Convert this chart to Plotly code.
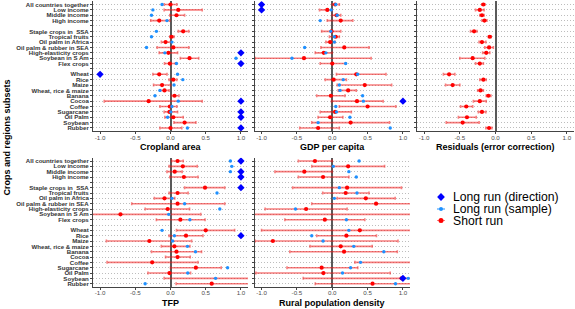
import plotly.graph_objects as go

W, H = 575, 309

categories = ["All countries together", "Low income", "Middle income", "High income", " ",
              "Staple crops in  SSA", "Tropical fruits", "Oil palm in Africa", "Oil palm & rubber in SEA",
              "High-elasticity crops", "Soybean in S Am", "Flex crops", "  ",
              "Wheat", "Rice", "Maize", "Wheat, rice & maize", "Banana", "Cocoa", "Coffee",
              "Sugarcane", "Oil Palm", "Soybean", "Rubber"]

x_tickvals = [-1.0, -0.5, 0.0, 0.5, 1.0]
x_ticktext = ["-1.0", "-0.5", "0.0", "0.5", "1.0"]

# Cropland area
crop_sr = [0.0, 0.11, 0.085, -0.16, None, 0.18, 0.015, -0.07, 0.04, -0.03, 0.27, -0.01, None,
           -0.16, 0.04, -0.12, -0.085, 0.057, -0.31, -0.01, -0.015, 0.04, 0.2, 0.0]
crop_lo = [-0.09, -0.09, -0.01, -0.28, None, 0.11, -0.01, -0.13, -0.19, -0.16, 0.14, -0.085, None,
           -0.25, -0.02, -0.24, -0.15, 0.015, -0.94, -0.15, -0.09, -0.08, 0.05, -0.15]
crop_hi = [0.09, 0.45, 0.2, -0.01, None, 0.26, 0.05, 0.0, 0.26, 0.1, 0.4, 0.07, None,
           -0.05, 0.09, 0.0, -0.02, 0.12, 0.45, 0.09, 0.1, 0.18, 0.36, 0.16]
crop_sample = [-0.12, -0.25, -0.27, -0.05, None, -0.2, -0.27, 0.02, -0.34, -0.08, 0.93, 0.085, None,
               0.1, 0.175, 0.05, -0.15, -0.22, 0.11, 0.02, 0.005, -0.04, None, 0.24]
crop_dir = [None, None, None, None, None, None, None, None, None, 1, None, 1, None,
            -1, None, None, None, None, 1, None, 1, 1, None, 1]

# GDP per capita
gdp_sr = [0.04, -0.07, 0.06, 0.12, None, -0.01, 0.05, -0.03, 0.17, -0.12, -0.4, 0.0, None,
          0.34, 0.02, 0.46, 0.225, -0.02, 0.35, 0.5, 0.04, -0.03, 0.26, -0.2]
gdp_lo = [0.0, -0.18, 0.0, -0.07, None, -0.15, -0.04, -0.09, -0.16, -0.24, -1.09, -0.17, None,
          0.06, -0.1, 0.07, 0.085, -0.22, -0.01, 0.1, -0.17, -0.2, -0.29, -0.46]
gdp_hi = [0.1, 0.0, 0.12, 0.29, None, 0.12, 0.1, 0.04, 0.52, 0.0, 0.55, 0.19, None,
          0.76, 0.2, 0.84, 0.34, 0.18, 0.72, 0.9, 0.27, 0.15, 0.81, 0.1]
gdp_sample = [0.05, -0.015, 0.07, -0.17, None, -0.02, 0.03, 0.03, -0.39, -0.09, -0.57, 0.19, None,
              0.36, 0.155, 0.1, 0.11, 0.43, 0.44, 0.05, 0.06, 0.25, -0.2, 0.82]
gdp_dir = [-1, -1, None, None, None, None, None, None, None, None, None, None, None,
           None, None, None, None, None, 1, None, None, None, None, None]

# Residuals (error correction)
res_sr = [-0.17, -0.22, -0.19, -0.155, None, -0.3, -0.08, -0.19, -0.09, -0.13, -0.32, -0.22, None,
          -0.65, -0.17, -0.6, -0.21, -0.1, -0.22, -0.41, -0.19, -0.4, -0.46, -0.09]
res_lo = [-0.19, -0.28, -0.22, -0.19, None, -0.35, -0.1, -0.23, -0.15, -0.18, -0.5, -0.28, None,
          -0.73, -0.22, -0.7, -0.25, -0.13, -0.31, -0.49, -0.24, -0.52, -0.69, -0.135]
res_hi = [-0.15, -0.16, -0.16, -0.12, None, -0.26, -0.06, -0.135, -0.03, -0.08, -0.15, -0.17, None,
          -0.57, -0.13, -0.5, -0.17, -0.065, -0.13, -0.32, -0.135, -0.27, -0.23, -0.05]
res_sample = [None] * 24
res_dir = [None] * 24

# TFP
tfp_sr = [0.1, 0.175, 0.06, 0.19, None, 0.49, 0.1, -0.085, 0.1, -0.04, -0.71, 0.14, None,
          0.5, 0.22, -0.3, 0.055, 0.085, 0.1, -0.26, 0.36, -0.015, 1.2, 0.585]
tfp_lo = [0.015, -0.02, -0.05, -0.01, None, 0.2, -0.02, -0.23, -0.55, -0.36, -1.3, -0.2, None,
          0.085, -0.02, -0.91, -0.13, -0.27, -0.07, -0.9, 0.0, -0.32, -0.09, 0.08]
tfp_hi = [0.18, 0.38, 0.165, 0.39, None, 0.77, 0.25, 0.06, 0.77, 0.27, 0.43, 0.49, None,
          0.91, 0.46, 0.3, 0.275, 0.44, 0.28, 0.39, 0.72, 0.285, 2.5, 1.3]
tfp_sample = [0.85, 0.87, 0.85, None, None, None, 0.66, 0.02, 0.2, 0.7, -0.025, 0.275, None,
              -0.12, 0.055, 0.03, 0.24, 0.355, None, None, 0.81, 0.245, 0.64, -0.36]
tfp_dir = [1, None, 1, 1, None, 1, None, None, None, None, None, None, None,
           None, 1, None, None, None, None, None, None, None, None, None]

# Rural population density
rur_sr = [-0.245, 0.225, -0.395, -0.13, None, 0.21, 0.19, 0.475, 0.62, -0.37, 1.3, -0.105, None,
          0.39, 0.2, -0.84, 0.12, 0.167, None, 1.3, -0.15, -0.125, 0.98, 0.57]
rur_lo = [-0.48, -0.29, -0.81, -0.48, None, -0.56, -0.135, 0.07, -0.29, -0.95, -1.5, -0.67, None,
          -1.0, -0.22, -1.09, -0.315, -0.6, None, 0.32, -0.64, -1.08, -0.41, -0.24]
rur_hi = [0.0, 0.74, 0.0, 0.235, None, 0.98, 0.52, 0.89, 1.5, 0.21, 4.0, 0.46, None,
          1.8, 0.625, 0.93, 0.565, 0.92, None, 2.3, 0.36, 0.82, 2.4, 1.6]
rur_sample = [0.38, 0.015, 0.235, 0.34, None, 0.1, 0.35, 0.03, None, -0.52, None, 0.2, None,
              0.235, -0.29, -0.13, 0.305, 0.73, None, 0.4, 0.26, 0.145, 1.075, 0.895]
rur_dir = [None, None, None, None, None, None, None, None, None, None, None, None, None,
           None, None, None, None, None, None, None, None, None, 1, None]

panel_titles = ["Cropland area", "GDP per capita", "Residuals (error correction)", "TFP", "Rural population density"]
legend_labels = ["Long run (direction)", "Long run (sample)", "Short run"]

RED = "#FF0000"
RED_CI = "rgba(240,20,20,0.55)"
SAMPLE = "#1E90FF"
DIRC = "#0000FF"
FONT = "Liberation Sans"

# layout geometry (pixels)
cols_px = [(93, 248), (254.5, 410), (417, 574)]
rows_px = [(1.3, 131.2), (157.8, 286.9)]

def xd(c):
    return [cols_px[c][0] / W, cols_px[c][1] / W]

def yd(r):
    return [1 - rows_px[r][1] / H, 1 - rows_px[r][0] / H]

panels = [
    (0, 0, crop_sr, crop_lo, crop_hi, crop_sample, crop_dir),
    (0, 1, gdp_sr, gdp_lo, gdp_hi, gdp_sample, gdp_dir),
    (0, 2, res_sr, res_lo, res_hi, res_sample, res_dir),
    (1, 0, tfp_sr, tfp_lo, tfp_hi, tfp_sample, tfp_dir),
    (1, 1, rur_sr, rur_lo, rur_hi, rur_sample, rur_dir),
]

fig = go.Figure()
layout = {}
annotations = []

for i, (r, c, sr, lo, hi, sample, direc) in enumerate(panels):
    k = i + 1
    xa = "x" if k == 1 else f"x{k}"
    ya = "y" if k == 1 else f"y{k}"
    plus = [None if s is None else h - s for s, h in zip(sr, hi)]
    minus = [None if s is None else s - l for s, l in zip(sr, lo)]
    fig.add_trace(go.Scatter(
        x=sr, y=categories, mode="markers", xaxis=xa, yaxis=ya, showlegend=False,
        marker=dict(color=RED, size=4.2, line=dict(width=0)),
        error_x=dict(type="data", symmetric=False, array=plus, arrayminus=minus,
                     color=RED_CI, thickness=1.6, width=1.5),
        cliponaxis=True, hoverinfo="skip"))
    fig.add_trace(go.Scatter(
        x=sample, y=categories, mode="markers", xaxis=xa, yaxis=ya, showlegend=False,
        marker=dict(color=SAMPLE, size=3.4, line=dict(width=0)), cliponaxis=True, hoverinfo="skip"))
    fig.add_trace(go.Scatter(
        x=direc, y=categories, mode="markers", xaxis=xa, yaxis=ya, showlegend=False,
        marker=dict(color=DIRC, size=5.6, symbol="diamond", line=dict(width=0)),
        cliponaxis=True, hoverinfo="skip"))

    xname = "xaxis" if k == 1 else f"xaxis{k}"
    yname = "yaxis" if k == 1 else f"yaxis{k}"
    layout[xname] = dict(
        domain=xd(c), anchor=ya, range=[-1.1, 1.1], tickmode="array",
        tickvals=x_tickvals, ticktext=x_ticktext, ticklabelstandoff=-2,
        showgrid=False, zeroline=True, zerolinecolor="#5a5a5a", zerolinewidth=1.8,
        showline=True, linecolor="#444", linewidth=1, ticks="outside", ticklen=2,
        tickcolor="#444", tickwidth=1, tickfont=dict(family=FONT, size=6.2, color="#4d4d4d"),
        automargin=False, fixedrange=True)
    layout[yname] = dict(
        domain=yd(r), anchor=xa, type="category", categoryorder="array", categoryarray=categories,
        tickmode="array", tickvals=categories, ticktext=categories,
        range=[23.6, -0.6], showgrid=True, gridcolor="#bdbdbd", gridwidth=1, griddash="1px,2px",
        showline=True, linecolor="#444", linewidth=1, ticks="outside", ticklen=2, tickcolor="#444",
        tickwidth=1, showticklabels=(c == 0),
        tickfont=dict(family=FONT, size=6.1, color="#333", weight="bold"),
        automargin=False, fixedrange=True, zeroline=False)
    cx = (cols_px[c][0] + cols_px[c][1]) / 2 / W
    ty = 146.5 if r == 0 else 303
    annotations.append(dict(text=panel_titles[i], x=cx, y=1 - ty / H, xref="paper", yref="paper",
                            xanchor="center", yanchor="middle", showarrow=False,
                            font=dict(family=FONT, size=9.0, color="#000", weight="bold")))

# y axis title
annotations.append(dict(text="Crops and regions subsets", x=6.5 / W, y=1 - 138 / H, xref="paper", yref="paper",
                        xanchor="center", yanchor="middle", showarrow=False, textangle=-90,
                        font=dict(family=FONT, size=9.0, color="#000", weight="bold")))

# manual legend on a hidden pixel-coordinate axis
leg_x = 441
leg_y = [197, 209, 220.5]
layout["xaxis6"] = dict(domain=[0, 1], range=[0, W], visible=False, fixedrange=True, anchor="y6")
layout["yaxis6"] = dict(domain=[0, 1], range=[H, 0], visible=False, fixedrange=True, anchor="x6")
fig.add_trace(go.Scatter(x=[leg_x], y=[leg_y[0]], xaxis="x6", yaxis="y6", mode="markers", showlegend=False,
                         marker=dict(color=DIRC, size=6, symbol="diamond"), hoverinfo="skip", cliponaxis=False))
fig.add_trace(go.Scatter(x=[leg_x], y=[leg_y[1]], xaxis="x6", yaxis="y6", mode="markers", showlegend=False,
                         marker=dict(color=SAMPLE, size=4),
                         error_x=dict(type="constant", value=4, color=SAMPLE, thickness=1, width=0),
                         hoverinfo="skip", cliponaxis=False))
fig.add_trace(go.Scatter(x=[leg_x], y=[leg_y[2]], xaxis="x6", yaxis="y6", mode="markers", showlegend=False,
                         marker=dict(color=RED, size=5),
                         error_x=dict(type="constant", value=4, color=RED_CI, thickness=1, width=0),
                         hoverinfo="skip", cliponaxis=False))
for lab, yy in zip(legend_labels, leg_y):
    annotations.append(dict(text=lab, x=451 / W, y=1 - yy / H, xref="paper", yref="paper",
                            xanchor="left", yanchor="middle", showarrow=False,
                            font=dict(family=FONT, size=12.2, color="#000")))

fig.update_layout(
    width=W, height=H, margin=dict(l=0, r=0, t=0, b=0), autosize=False,
    paper_bgcolor="white", plot_bgcolor="rgba(0,0,0,0)", template="none",
    showlegend=False, annotations=annotations, **layout)

fig.write_html("out.html", config=dict(displayModeBar=False),
               post_script="document.body.style.margin='0';document.body.style.padding='0';")
